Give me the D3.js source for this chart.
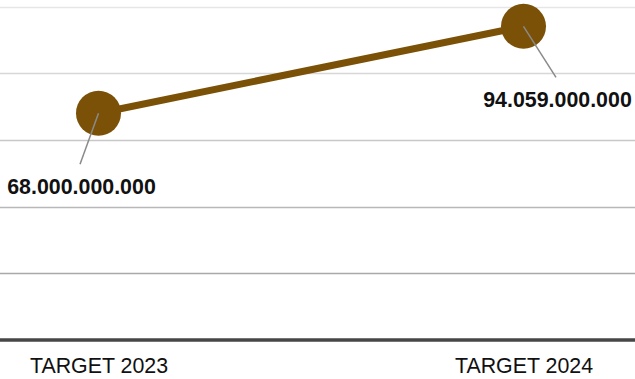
<!DOCTYPE html>
<html>
<head>
<meta charset="utf-8">
<script src="https://cdn.jsdelivr.net/npm/d3@7/dist/d3.min.js"></script>
<style>
  html, body { margin: 0; padding: 0; background: #fff; }
  svg { display: block; font-family: "Liberation Sans", Arial, sans-serif; }
</style>
</head>
<body>
<svg id="chart" width="635" height="379"></svg>
<script>
// Targets per year
const categories = ["TARGET 2023", "TARGET 2024"];
const values = [68000000000, 94059000000];
const valueLabels = ["68.000.000.000", "94.059.000.000"];
const gridTicks = [0, 20e9, 40e9, 60e9, 80e9, 100e9];

const width = 635, height = 379;
const svg = d3.select("#chart");

const x = d3.scalePoint().domain(categories).range([98.5, 523.5]);
const y = d3.scaleLinear().domain([0, 100e9]).range([340, 6.5]);

// gridlines fade out towards the top
const gridColor = d3.scaleLinear().domain([20e9, 100e9]).range(["#a9a9a9", "#e6e6e6"]);

svg.append("g")
  .selectAll("line")
  .data(gridTicks.filter(d => d > 0))
  .join("line")
  .attr("x1", 0).attr("x2", width)
  .attr("y1", d => Math.round(y(d)) + 0.5)
  .attr("y2", d => Math.round(y(d)) + 0.5)
  .attr("stroke", d => gridColor(d))
  .attr("stroke-width", 1.5);

// baseline
svg.append("line")
  .attr("x1", 0).attr("x2", width)
  .attr("y1", y(0)).attr("y2", y(0))
  .attr("stroke", "#464646")
  .attr("stroke-width", 3.5);

// category axis labels (slightly condensed type)
const xAxis = d3.axisBottom(x).tickSize(0).tickPadding(0);
const gx = svg.append("g").attr("transform", `translate(0,${y(0)})`).call(xAxis);
gx.select(".domain").remove();
gx.selectAll("text")
  .attr("dy", null)
  .attr("y", 33.5)
  .attr("transform", "scale(0.93,1)")
  .attr("fill", "#111")
  .style("font-size", "23px")
  .style("font-family", "'Liberation Sans', Arial, sans-serif");

const pts = categories.map((c, i) => ({ c, v: values[i], label: valueLabels[i] }));

// connecting line
const color = "#7a5106";
svg.append("path")
  .datum(pts)
  .attr("fill", "none")
  .attr("stroke", color)
  .attr("stroke-width", 7)
  .attr("d", d3.line().x(d => x(d.c)).y(d => y(d.v)));

// markers
svg.append("g")
  .selectAll("circle")
  .data(pts)
  .join("circle")
  .attr("cx", d => x(d.c))
  .attr("cy", d => y(d.v))
  .attr("r", 22.5)
  .attr("fill", color);

// leader lines and value labels
const leaderDx = [-18.5, 32.5];
const leaderDy = 51;
const lab = svg.append("g").selectAll("g").data(pts).join("g");
lab.append("line")
  .attr("x1", d => x(d.c))
  .attr("y1", d => y(d.v))
  .attr("x2", (d, i) => x(d.c) + leaderDx[i])
  .attr("y2", d => y(d.v) + leaderDy)
  .attr("stroke", "#8a8a8a")
  .attr("stroke-width", 1.5);
lab.append("text")
  .attr("transform", (d, i) =>
    `translate(${x(d.c) + leaderDx[i] + 1.5},${y(d.v) + leaderDy + 29.5}) scale(0.93,1)`)
  .attr("text-anchor", "middle")
  .attr("fill", "#111")
  .style("font-weight", "bold")
  .style("font-size", "23px")
  .text(d => d.label);
</script>
</body>
</html>
